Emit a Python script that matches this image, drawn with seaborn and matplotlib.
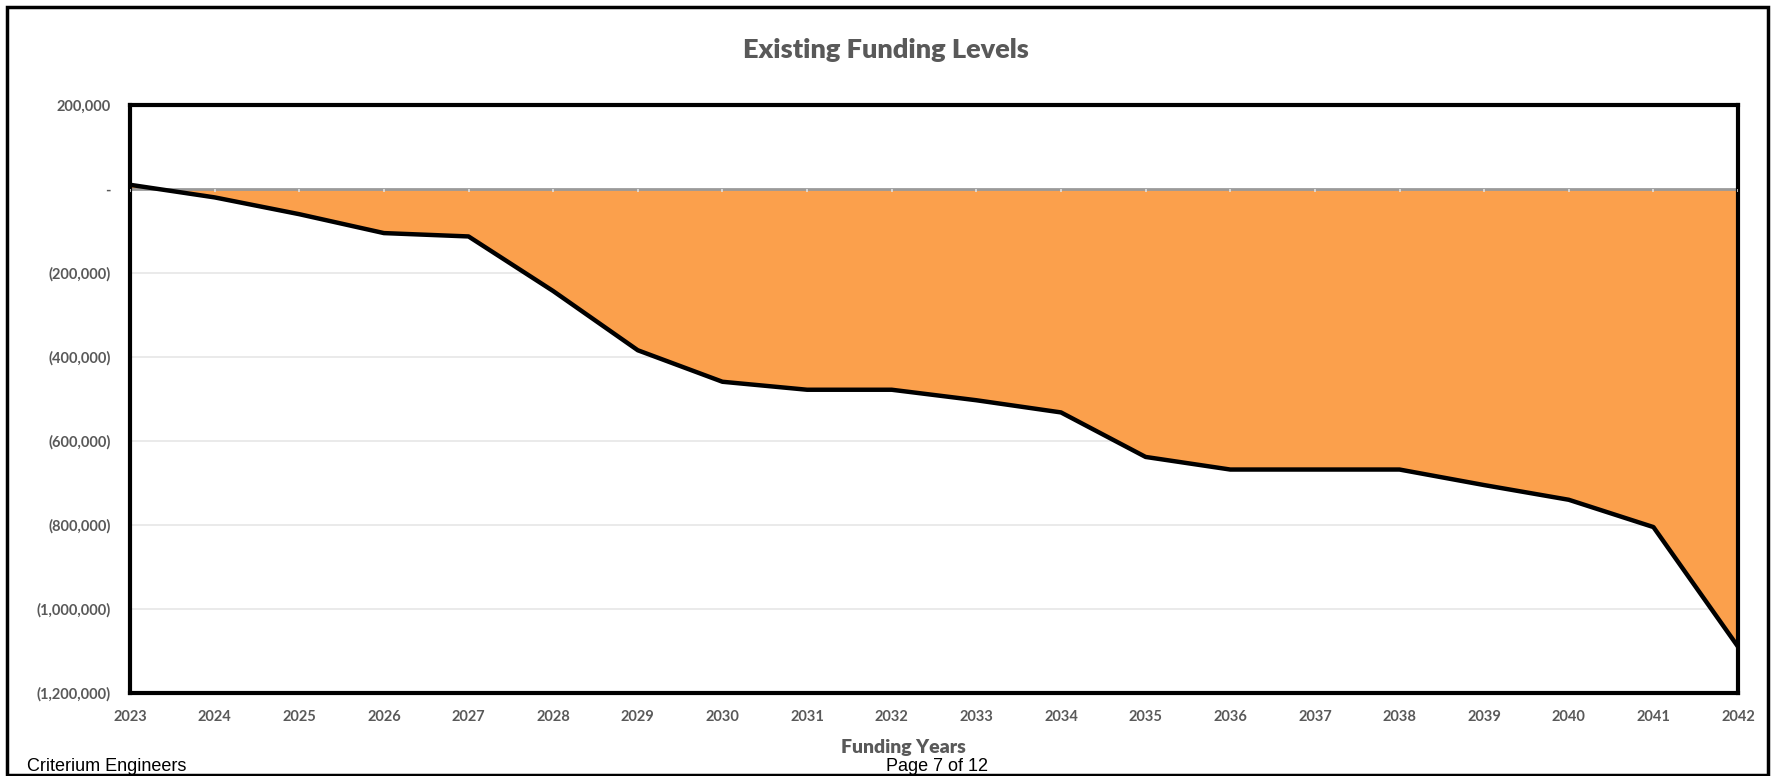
import numpy as np
import pandas as pd
import matplotlib
matplotlib.use("Agg")
import matplotlib.pyplot as plt
from matplotlib.patches import Rectangle
import seaborn as sns

years = list(range(2023, 2043))
balance = [10000, -20000, -60000, -105000, -113000, -243000, -384000, -459000,
           -478000, -478000, -503000, -532000, -638000, -668000, -668000, -668000,
           -705000, -740000, -805000, -1090000]
y_ticks = [200000, 0, -200000, -400000, -600000, -800000, -1000000, -1200000]
y_tick_labels = ["200,000", "-", "(200,000)", "(400,000)", "(600,000)",
                 "(800,000)", "(1,000,000)", "(1,200,000)"]
title = "Existing Funding Levels"
x_label = "Funding Years"

df = pd.DataFrame({"year": years, "balance": balance})

sns.set_theme(style="white")
plt.rcParams['font.family'] = ['Lato', 'DejaVu Sans']

fig = plt.figure(figsize=(17.71, 7.76), dpi=100)
ax = fig.add_axes([0.0734, 0.107, 0.908, 0.7577])

grey = "#595959"
orange = "#FBA04C"

for t in y_ticks[2:-1]:
    ax.axhline(t, color="#e6e6e6", lw=1.2, zorder=0)

ax.fill_between(df["year"], df["balance"], 0, color=orange, lw=0, zorder=1)
ax.axhline(0, color="#9a9a9a", lw=2.0, zorder=2)
ax.vlines(df["year"], -7000, 0, color="#e0e0e0", lw=1.2, zorder=3)
sns.lineplot(data=df, x="year", y="balance", ax=ax, color="black", lw=3.2, zorder=4)

ax.set_xlim(2023, 2042)
ax.set_ylim(-1200000, 200000)
ax.set_xticks(years)
ax.set_xticklabels([str(y) for y in years], fontsize=10.5, fontweight="bold", color=grey)
ax.set_yticks(y_ticks)
ax.set_yticklabels(y_tick_labels, fontsize=10.5, fontweight="bold", color=grey)
ax.tick_params(axis="x", length=0, pad=12)
ax.tick_params(axis="y", length=0, pad=14)
ax.set_xlabel("")
ax.set_ylabel("")
for s in ax.spines.values():
    s.set_visible(True)
    s.set_color("black")
    s.set_linewidth(3)

fig.text(0.5, 1 - 50 / 776, title, ha="center", va="center", fontsize=19.5,
         fontweight="heavy", color=grey)
fig.text(903 / 1771, 1 - 748 / 776, x_label, ha="center", va="center", fontsize=14,
         fontweight="heavy", color=grey)
fig.text(27 / 1771, 5 / 776, "Criterium Engineers", ha="left", va="baseline",
         fontsize=13, color="black", family=["Liberation Sans", "DejaVu Sans"])
fig.text(937 / 1771, 5 / 776, "Page 7 of 12", ha="center", va="baseline",
         fontsize=13, color="black", family=["Liberation Sans", "DejaVu Sans"])

fig.patches.append(Rectangle((7 / 1771, 1 / 776), (1768 - 7) / 1771, 1 - 8 / 776,
                             transform=fig.transFigure, fill=False, edgecolor="black",
                             lw=2.5, zorder=10))

fig.savefig("out.png", dpi=100)
